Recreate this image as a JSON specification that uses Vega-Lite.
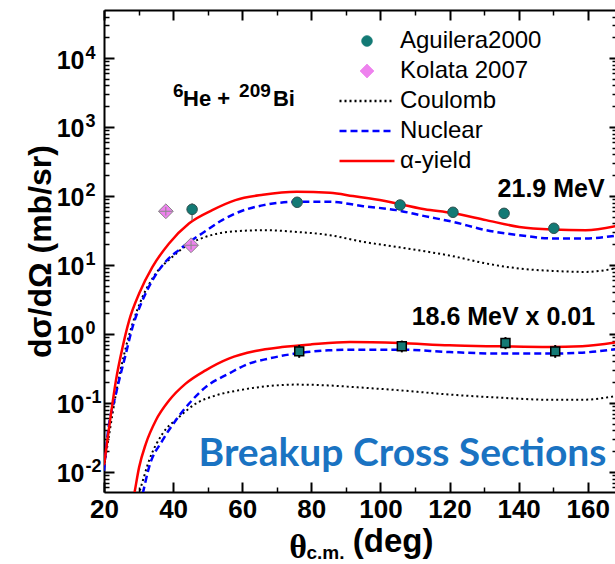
{
  "$schema": "https://vega.github.io/schema/vega-lite/v6.json",
  "width": 511,
  "height": 482,
  "autosize": {"type": "none"},
  "padding": {"left": 104, "top": 10, "right": 0, "bottom": 72},
  "background": "white",
  "config": {
    "view": {"stroke": null},
    "axis": {"grid": false, "tickColor": "#000", "domainColor": "#000", "labelColor": "#000", "titleColor": "#000"}
  },
  "datasets": {
    "curves": [
      {"s": "α-yield", "e": "21.9", "t": 20.0, "v": 0.0125},
      {"s": "α-yield", "e": "21.9", "t": 20.58, "v": 0.0204},
      {"s": "α-yield", "e": "21.9", "t": 22.02, "v": 0.0695},
      {"s": "α-yield", "e": "21.9", "t": 23.46, "v": 0.212},
      {"s": "α-yield", "e": "21.9", "t": 25.39, "v": 0.644},
      {"s": "α-yield", "e": "21.9", "t": 27.29, "v": 1.57},
      {"s": "α-yield", "e": "21.9", "t": 30.17, "v": 3.84},
      {"s": "α-yield", "e": "21.9", "t": 34.03, "v": 9.35},
      {"s": "α-yield", "e": "21.9", "t": 38.82, "v": 20.5},
      {"s": "α-yield", "e": "21.9", "t": 44.58, "v": 39.9},
      {"s": "α-yield", "e": "21.9", "t": 51.33, "v": 62.3},
      {"s": "α-yield", "e": "21.9", "t": 58.04, "v": 87.1},
      {"s": "α-yield", "e": "21.9", "t": 66.0, "v": 104},
      {"s": "α-yield", "e": "21.9", "t": 75.82, "v": 114.8},
      {"s": "α-yield", "e": "21.9", "t": 85.4, "v": 111},
      {"s": "α-yield", "e": "21.9", "t": 92.0, "v": 100},
      {"s": "α-yield", "e": "21.9", "t": 99.8, "v": 87.1},
      {"s": "α-yield", "e": "21.9", "t": 112.8, "v": 64.4},
      {"s": "α-yield", "e": "21.9", "t": 120.95, "v": 56.5},
      {"s": "α-yield", "e": "21.9", "t": 130.6, "v": 44.6},
      {"s": "α-yield", "e": "21.9", "t": 140.2, "v": 35.6},
      {"s": "α-yield", "e": "21.9", "t": 149.8, "v": 32.7},
      {"s": "α-yield", "e": "21.9", "t": 159.4, "v": 31.9},
      {"s": "α-yield", "e": "21.9", "t": 168.0, "v": 36.5},
      {"s": "Nuclear", "e": "21.9", "t": 20.0, "v": 0.0104},
      {"s": "Nuclear", "e": "21.9", "t": 21.07, "v": 0.0356},
      {"s": "Nuclear", "e": "21.9", "t": 23.46, "v": 0.136},
      {"s": "Nuclear", "e": "21.9", "t": 26.34, "v": 0.518},
      {"s": "Nuclear", "e": "21.9", "t": 28.27, "v": 1.26},
      {"s": "Nuclear", "e": "21.9", "t": 31.15, "v": 3.07},
      {"s": "Nuclear", "e": "21.9", "t": 34.03, "v": 6.0},
      {"s": "Nuclear", "e": "21.9", "t": 37.87, "v": 11.2},
      {"s": "Nuclear", "e": "21.9", "t": 41.7, "v": 16.5},
      {"s": "Nuclear", "e": "21.9", "t": 45.56, "v": 23.0},
      {"s": "Nuclear", "e": "21.9", "t": 49.4, "v": 31.0},
      {"s": "Nuclear", "e": "21.9", "t": 54.2, "v": 44.6},
      {"s": "Nuclear", "e": "21.9", "t": 58.04, "v": 55.8},
      {"s": "Nuclear", "e": "21.9", "t": 66.2, "v": 73.6},
      {"s": "Nuclear", "e": "21.9", "t": 75.8, "v": 82.2},
      {"s": "Nuclear", "e": "21.9", "t": 85.4, "v": 82.2},
      {"s": "Nuclear", "e": "21.9", "t": 95.0, "v": 71.2},
      {"s": "Nuclear", "e": "21.9", "t": 104.6, "v": 62.3},
      {"s": "Nuclear", "e": "21.9", "t": 112.8, "v": 51.0},
      {"s": "Nuclear", "e": "21.9", "t": 120.95, "v": 42.2},
      {"s": "Nuclear", "e": "21.9", "t": 130.6, "v": 31.9},
      {"s": "Nuclear", "e": "21.9", "t": 140.2, "v": 27.0},
      {"s": "Nuclear", "e": "21.9", "t": 149.8, "v": 24.2},
      {"s": "Nuclear", "e": "21.9", "t": 159.4, "v": 24.2},
      {"s": "Nuclear", "e": "21.9", "t": 168.0, "v": 26.5},
      {"s": "Coulomb", "e": "21.9", "t": 20.0, "v": 0.0115},
      {"s": "Coulomb", "e": "21.9", "t": 21.53, "v": 0.0356},
      {"s": "Coulomb", "e": "21.9", "t": 23.46, "v": 0.136},
      {"s": "Coulomb", "e": "21.9", "t": 26.34, "v": 0.644},
      {"s": "Coulomb", "e": "21.9", "t": 28.27, "v": 1.41},
      {"s": "Coulomb", "e": "21.9", "t": 31.15, "v": 3.43},
      {"s": "Coulomb", "e": "21.9", "t": 34.99, "v": 7.5},
      {"s": "Coulomb", "e": "21.9", "t": 39.8, "v": 13.1},
      {"s": "Coulomb", "e": "21.9", "t": 44.58, "v": 20.0},
      {"s": "Coulomb", "e": "21.9", "t": 49.4, "v": 25.5},
      {"s": "Coulomb", "e": "21.9", "t": 56.1, "v": 30.1},
      {"s": "Coulomb", "e": "21.9", "t": 66.2, "v": 31.9},
      {"s": "Coulomb", "e": "21.9", "t": 75.8, "v": 30.1},
      {"s": "Coulomb", "e": "21.9", "t": 85.4, "v": 27.0},
      {"s": "Coulomb", "e": "21.9", "t": 95.0, "v": 21.6},
      {"s": "Coulomb", "e": "21.9", "t": 104.6, "v": 18.3},
      {"s": "Coulomb", "e": "21.9", "t": 112.8, "v": 15.8},
      {"s": "Coulomb", "e": "21.9", "t": 120.95, "v": 13.4},
      {"s": "Coulomb", "e": "21.9", "t": 130.6, "v": 10.5},
      {"s": "Coulomb", "e": "21.9", "t": 140.2, "v": 8.87},
      {"s": "Coulomb", "e": "21.9", "t": 149.8, "v": 8.19},
      {"s": "Coulomb", "e": "21.9", "t": 159.4, "v": 7.92},
      {"s": "Coulomb", "e": "21.9", "t": 168.0, "v": 8.9},
      {"s": "α-yield", "e": "18.6", "t": 28.3, "v": 0.0036},
      {"s": "α-yield", "e": "18.6", "t": 28.73, "v": 0.00468},
      {"s": "α-yield", "e": "18.6", "t": 30.17, "v": 0.0117},
      {"s": "α-yield", "e": "18.6", "t": 32.1, "v": 0.0255},
      {"s": "α-yield", "e": "18.6", "t": 34.99, "v": 0.0556},
      {"s": "α-yield", "e": "18.6", "t": 38.82, "v": 0.108},
      {"s": "α-yield", "e": "18.6", "t": 43.63, "v": 0.19},
      {"s": "α-yield", "e": "18.6", "t": 49.4, "v": 0.296},
      {"s": "α-yield", "e": "18.6", "t": 56.1, "v": 0.438},
      {"s": "α-yield", "e": "18.6", "t": 63.8, "v": 0.564},
      {"s": "α-yield", "e": "18.6", "t": 71.5, "v": 0.644},
      {"s": "α-yield", "e": "18.6", "t": 80.1, "v": 0.706},
      {"s": "α-yield", "e": "18.6", "t": 91.2, "v": 0.762},
      {"s": "α-yield", "e": "18.6", "t": 105.6, "v": 0.736},
      {"s": "α-yield", "e": "18.6", "t": 120.0, "v": 0.682},
      {"s": "α-yield", "e": "18.6", "t": 134.4, "v": 0.66},
      {"s": "α-yield", "e": "18.6", "t": 148.8, "v": 0.644},
      {"s": "α-yield", "e": "18.6", "t": 158.4, "v": 0.66},
      {"s": "α-yield", "e": "18.6", "t": 168.0, "v": 0.75},
      {"s": "Nuclear", "e": "18.6", "t": 30.5, "v": 0.0034},
      {"s": "Nuclear", "e": "18.6", "t": 31.15, "v": 0.00468},
      {"s": "Nuclear", "e": "18.6", "t": 33.05, "v": 0.0117},
      {"s": "Nuclear", "e": "18.6", "t": 36.92, "v": 0.0285},
      {"s": "Nuclear", "e": "18.6", "t": 40.75, "v": 0.0556},
      {"s": "Nuclear", "e": "18.6", "t": 44.58, "v": 0.097},
      {"s": "Nuclear", "e": "18.6", "t": 49.4, "v": 0.169},
      {"s": "Nuclear", "e": "18.6", "t": 56.1, "v": 0.265},
      {"s": "Nuclear", "e": "18.6", "t": 61.9, "v": 0.37},
      {"s": "Nuclear", "e": "18.6", "t": 67.6, "v": 0.438},
      {"s": "Nuclear", "e": "18.6", "t": 75.3, "v": 0.518},
      {"s": "Nuclear", "e": "18.6", "t": 84.9, "v": 0.577},
      {"s": "Nuclear", "e": "18.6", "t": 92.6, "v": 0.591},
      {"s": "Nuclear", "e": "18.6", "t": 105.6, "v": 0.591},
      {"s": "Nuclear", "e": "18.6", "t": 120.0, "v": 0.546},
      {"s": "Nuclear", "e": "18.6", "t": 134.4, "v": 0.518},
      {"s": "Nuclear", "e": "18.6", "t": 148.8, "v": 0.518},
      {"s": "Nuclear", "e": "18.6", "t": 158.4, "v": 0.535},
      {"s": "Nuclear", "e": "18.6", "t": 168.0, "v": 0.6},
      {"s": "Coulomb", "e": "18.6", "t": 29.5, "v": 0.0039},
      {"s": "Coulomb", "e": "18.6", "t": 30.66, "v": 0.00597},
      {"s": "Coulomb", "e": "18.6", "t": 33.05, "v": 0.0146},
      {"s": "Coulomb", "e": "18.6", "t": 36.92, "v": 0.0356},
      {"s": "Coulomb", "e": "18.6", "t": 41.7, "v": 0.0621},
      {"s": "Coulomb", "e": "18.6", "t": 46.5, "v": 0.097},
      {"s": "Coulomb", "e": "18.6", "t": 52.3, "v": 0.128},
      {"s": "Coulomb", "e": "18.6", "t": 59.0, "v": 0.152},
      {"s": "Coulomb", "e": "18.6", "t": 67.6, "v": 0.175},
      {"s": "Coulomb", "e": "18.6", "t": 75.3, "v": 0.184},
      {"s": "Coulomb", "e": "18.6", "t": 84.9, "v": 0.179},
      {"s": "Coulomb", "e": "18.6", "t": 92.6, "v": 0.169},
      {"s": "Coulomb", "e": "18.6", "t": 105.6, "v": 0.152},
      {"s": "Coulomb", "e": "18.6", "t": 120.0, "v": 0.132},
      {"s": "Coulomb", "e": "18.6", "t": 134.4, "v": 0.119},
      {"s": "Coulomb", "e": "18.6", "t": 148.8, "v": 0.111},
      {"s": "Coulomb", "e": "18.6", "t": 158.4, "v": 0.111},
      {"s": "Coulomb", "e": "18.6", "t": 168.0, "v": 0.125}
    ],
    "agu": [
      {"s": "Aguilera2000", "t": 45.5, "v": 64, "lo": 44.6, "hi": 78.7},
      {"s": "Aguilera2000", "t": 75.9, "v": 81, "lo": 76, "hi": 86},
      {"s": "Aguilera2000", "t": 105.7, "v": 74, "lo": 70, "hi": 78},
      {"s": "Aguilera2000", "t": 121.0, "v": 58, "lo": 55, "hi": 61},
      {"s": "Aguilera2000", "t": 135.8, "v": 56, "lo": 53, "hi": 59},
      {"s": "Aguilera2000", "t": 150.2, "v": 34, "lo": 32, "hi": 36}
    ],
    "kol": [
      {"s": "Kolata 2007", "t": 37.9, "v": 60, "lo": 52, "hi": 69, "tlo": 35.9, "thi": 39.9},
      {"s": "Kolata 2007", "t": 45.2, "v": 19.3, "lo": 16.7, "hi": 22.3, "tlo": 43.2, "thi": 47.2}
    ],
    "low": [
      {"s": "Aguilera2000", "t": 76.5, "v": 0.558, "lo": 0.45, "hi": 0.69},
      {"s": "Aguilera2000", "t": 106.2, "v": 0.66, "lo": 0.54, "hi": 0.8},
      {"s": "Aguilera2000", "t": 136.2, "v": 0.736, "lo": 0.6, "hi": 0.9},
      {"s": "Aguilera2000", "t": 150.6, "v": 0.558, "lo": 0.45, "hi": 0.69}
    ]
  },
  "layer": [
    {
      "data": {"name": "curves"},
      "transform": [{"filter": "datum.s == 'Coulomb'"}],
      "mark": {"type": "line", "clip": true, "strokeWidth": 2, "strokeDash": [2, 3], "interpolate": "monotone"},
      "encoding": {
        "x": {"field": "t", "type": "quantitative", "scale": {"domain": [20, 167.9], "nice": false, "zero": false},
          "axis": {"orient": "bottom", "values": [20, 40, 60, 80, 100, 120, 140, 160], "tickSize": -10, "tickWidth": 2, "domain": true, "domainWidth": 2,
            "labelFont": "Liberation Sans", "labelFontWeight": "bold", "labelFontSize": 26, "labelPadding": 14, "labelFlush": false, "labelOverlap": false, "title": null}},
        "y": {"field": "v", "type": "quantitative", "scale": {"type": "log", "domain": [0.0051, 49700], "nice": false},
          "axis": {"orient": "left", "values": [0.01, 0.1, 1, 10, 100, 1000, 10000], "tickSize": -10, "tickWidth": 2, "domain": true, "domainWidth": 2,
            "labelExpr": "'10'", "labelOffset": 2,
            "labelFont": "Liberation Sans", "labelFontWeight": "bold", "labelFontSize": 25, "labelPadding": 30, "labelFlush": false, "labelOverlap": false,
            "title": "dσ/dΩ (mb/sr)", "titleFont": "Liberation Sans", "titleFontWeight": "bold", "titleFontSize": 32, "titlePadding": -1}},
        "color": {"field": "s", "type": "nominal",
          "scale": {"domain": ["Aguilera2000", "Kolata 2007", "Coulomb", "Nuclear", "α-yield"], "range": ["#137a75", "#ee82ee", "#000000", "#0000ff", "#ff0000"]},
          "legend": {"orient": "none", "legendX": 251, "legendY": 19, "title": null, "symbolSize": 400, "labelOffset": 21, "rowPadding": 6,
            "labelFont": "Liberation Sans", "labelFontSize": 24, "labelColor": "#000", "padding": 0,
            "encode": {"symbols": {"update": {
              "shape": {"signal": "datum.value == 'Aguilera2000' ? 'circle' : datum.value == 'Kolata 2007' ? 'diamond' : 'M-2.75,0H2.75'"},
              "size": {"signal": "datum.value == 'Aguilera2000' ? 110 : datum.value == 'Kolata 2007' ? 190 : 400"},
              "fill": {"signal": "datum.value == 'Aguilera2000' ? '#137a75' : datum.value == 'Kolata 2007' ? '#ee82ee' : 'transparent'"},
              "stroke": {"signal": "datum.value == 'Aguilera2000' ? '#2d4f4d' : datum.value == 'Kolata 2007' ? '#888888' : datum.value == 'Coulomb' ? '#000000' : datum.value == 'Nuclear' ? '#0000ff' : '#ff0000'"},
              "strokeWidth": {"signal": "datum.value == 'Aguilera2000' || datum.value == 'Kolata 2007' ? 1 : 2.5"},
              "strokeDash": {"signal": "datum.value == 'Coulomb' ? [2,3] : datum.value == 'Nuclear' ? [7,4] : [1,0]"},
              "opacity": {"value": 1}
            }}}}},
        "detail": {"field": "e"}
      }
    },
    {
      "data": {"name": "curves"},
      "transform": [{"filter": "datum.s == 'Nuclear'"}],
      "mark": {"type": "line", "clip": true, "strokeWidth": 2.5, "strokeDash": [7, 4], "interpolate": "monotone"},
      "encoding": {
        "x": {"field": "t", "type": "quantitative", "scale": {"domain": [20, 167.9], "nice": false, "zero": false},
          "axis": {"orient": "top", "values": [20, 40, 60, 80, 100, 120, 140, 160], "tickSize": -10, "tickWidth": 2, "domain": true, "domainWidth": 2, "labels": false, "title": null}},
        "y": {"field": "v", "type": "quantitative", "scale": {"type": "log", "domain": [0.0051, 49700], "nice": false},
          "axis": {"orient": "right", "values": [0.01, 0.1, 1, 10, 100, 1000, 10000], "tickSize": -6, "tickWidth": 2, "domain": false, "labels": false, "title": null}},
        "color": {"field": "s", "type": "nominal", "legend": null},
        "detail": {"field": "e"}
      }
    },
    {
      "data": {"name": "curves"},
      "transform": [{"filter": "datum.s == 'α-yield'"}],
      "mark": {"type": "line", "clip": true, "strokeWidth": 2.5, "interpolate": "monotone"},
      "encoding": {
        "x": {"field": "t", "type": "quantitative", "scale": {"domain": [20, 167.9], "nice": false, "zero": false},
          "axis": {"orient": "bottom", "values": [30, 50, 70, 90, 110, 130, 150], "tickSize": -5, "tickWidth": 1.5, "domain": false, "labels": false, "title": null}},
        "y": {"field": "v", "type": "quantitative", "scale": {"type": "log", "domain": [0.0051, 49700], "nice": false},
          "axis": {"orient": "left", "values": [0.006, 0.007, 0.008, 0.009, 0.02, 0.03, 0.04, 0.05, 0.06, 0.07, 0.08, 0.09, 0.2, 0.3, 0.4, 0.5, 0.6, 0.7, 0.8, 0.9, 2, 3, 4, 5, 6, 7, 8, 9, 20, 30, 40, 50, 60, 70, 80, 90, 200, 300, 400, 500, 600, 700, 800, 900, 2000, 3000, 4000, 5000, 6000, 7000, 8000, 9000, 20000, 30000, 40000], "tickSize": -5, "tickWidth": 1.5, "domain": false, "labels": false, "title": null}},
        "color": {"field": "s", "type": "nominal", "legend": null},
        "detail": {"field": "e"}
      }
    },
    {
      "data": {"name": "agu"},
      "mark": {"type": "rule", "color": "#888888", "strokeWidth": 1.5},
      "encoding": {
        "x": {"field": "t", "type": "quantitative", "scale": {"domain": [20, 167.9], "nice": false, "zero": false},
          "axis": {"orient": "top", "values": [30, 50, 70, 90, 110, 130, 150], "tickSize": -5, "tickWidth": 1.5, "domain": false, "labels": false, "title": null}},
        "y": {"field": "lo", "type": "quantitative", "scale": {"type": "log", "domain": [0.0051, 49700], "nice": false},
          "axis": {"orient": "right", "values": [0.006, 0.007, 0.008, 0.009, 0.02, 0.03, 0.04, 0.05, 0.06, 0.07, 0.08, 0.09, 0.2, 0.3, 0.4, 0.5, 0.6, 0.7, 0.8, 0.9, 2, 3, 4, 5, 6, 7, 8, 9, 20, 30, 40, 50, 60, 70, 80, 90, 200, 300, 400, 500, 600, 700, 800, 900, 2000, 3000, 4000, 5000, 6000, 7000, 8000, 9000, 20000, 30000, 40000], "tickSize": -3, "tickWidth": 1.5, "domain": false, "labels": false, "title": null}},
        "y2": {"field": "hi"}
      }
    },
    {
      "data": {"name": "agu"},
      "mark": {"type": "circle", "size": 110, "opacity": 1, "stroke": "#2d4f4d", "strokeWidth": 1},
      "encoding": {
        "x": {"field": "t", "type": "quantitative", "scale": {"domain": [20, 167.9], "nice": false, "zero": false}, "axis": null},
        "y": {"field": "v", "type": "quantitative", "scale": {"type": "log", "domain": [0.0051, 49700], "nice": false}, "axis": null},
        "color": {"field": "s", "type": "nominal", "legend": null}
      }
    },
    {
      "data": {"name": "kol"},
      "mark": {"type": "point", "shape": "diamond", "size": 220, "filled": true, "opacity": 1, "stroke": "#888888", "strokeWidth": 1},
      "encoding": {
        "x": {"field": "t", "type": "quantitative", "scale": {"domain": [20, 167.9], "nice": false, "zero": false}, "axis": null},
        "y": {"field": "v", "type": "quantitative", "scale": {"type": "log", "domain": [0.0051, 49700], "nice": false},
          "axis": {"orient": "left", "values": [0.01, 0.1, 1, 10, 100, 1000, 10000], "ticks": false, "domain": false,
            "labelExpr": "datum.value > 5000 ? '4' : datum.value > 500 ? '3' : datum.value > 50 ? '2' : datum.value > 5 ? '1' : datum.value > 0.5 ? '0' : datum.value > 0.05 ? '-1' : '-2'",
            "labelAlign": "left", "labelBaseline": "middle", "labelOffset": -5, "labelPadding": 19,
            "labelFont": "Liberation Sans", "labelFontWeight": "bold", "labelFontSize": 18, "labelFlush": false, "labelOverlap": false, "title": null}},
        "color": {"field": "s", "type": "nominal", "legend": null}
      }
    },
    {
      "data": {"name": "kol"},
      "mark": {"type": "rule", "color": "#888888", "strokeWidth": 1},
      "encoding": {
        "x": {"field": "t", "type": "quantitative", "scale": {"domain": [20, 167.9], "nice": false, "zero": false}, "axis": null},
        "y": {"field": "lo", "type": "quantitative", "scale": {"type": "log", "domain": [0.0051, 49700], "nice": false}, "axis": null},
        "y2": {"field": "hi"}
      }
    },
    {
      "data": {"name": "kol"},
      "mark": {"type": "rule", "color": "#888888", "strokeWidth": 1},
      "encoding": {
        "x": {"field": "tlo", "type": "quantitative", "scale": {"domain": [20, 167.9], "nice": false, "zero": false}, "axis": null},
        "x2": {"field": "thi"},
        "y": {"field": "v", "type": "quantitative", "scale": {"type": "log", "domain": [0.0051, 49700], "nice": false}, "axis": null}
      }
    },
    {
      "data": {"name": "low"},
      "mark": {"type": "rule", "color": "#000000", "strokeWidth": 2},
      "encoding": {
        "x": {"field": "t", "type": "quantitative", "scale": {"domain": [20, 167.9], "nice": false, "zero": false}, "axis": null},
        "y": {"field": "lo", "type": "quantitative", "scale": {"type": "log", "domain": [0.0051, 49700], "nice": false}, "axis": null},
        "y2": {"field": "hi"}
      }
    },
    {
      "data": {"name": "low"},
      "mark": {"type": "square", "size": 80, "opacity": 1, "stroke": "#000000", "strokeWidth": 1.5},
      "encoding": {
        "x": {"field": "t", "type": "quantitative", "scale": {"domain": [20, 167.9], "nice": false, "zero": false}, "axis": null},
        "y": {"field": "v", "type": "quantitative", "scale": {"type": "log", "domain": [0.0051, 49700], "nice": false}, "axis": null},
        "color": {"field": "s", "type": "nominal", "legend": null}
      }
    },
    {
      "data": {"values": [{"t": 42.9, "v": 2005, "txt": "He +"}, {"t": 68.9, "v": 2005, "txt": "Bi"}]},
      "mark": {"type": "text", "align": "left", "baseline": "alphabetic", "font": "Liberation Sans", "fontWeight": "bold", "fontSize": 22, "color": "#000"},
      "encoding": {
        "x": {"field": "t", "type": "quantitative", "scale": {"domain": [20, 167.9], "nice": false, "zero": false}, "axis": null},
        "y": {"field": "v", "type": "quantitative", "scale": {"type": "log", "domain": [0.0051, 49700], "nice": false}, "axis": null},
        "text": {"field": "txt"}
      }
    },
    {
      "data": {"values": [{"t": 40.0, "v": 2005, "txt": "6"}, {"t": 59.1, "v": 2005, "txt": "209"}]},
      "mark": {"type": "text", "align": "left", "baseline": "alphabetic", "dy": -9, "font": "Liberation Sans", "fontWeight": "bold", "fontSize": 19, "color": "#000"},
      "encoding": {
        "x": {"field": "t", "type": "quantitative", "scale": {"domain": [20, 167.9], "nice": false, "zero": false}, "axis": null},
        "y": {"field": "v", "type": "quantitative", "scale": {"type": "log", "domain": [0.0051, 49700], "nice": false}, "axis": null},
        "text": {"field": "txt"}
      }
    },
    {
      "data": {"values": [{"t": 149.4, "v": 95.5, "txt": "21.9 MeV"}, {"t": 135.6, "v": 1.325, "txt": "18.6 MeV x 0.01"}]},
      "mark": {"type": "text", "align": "center", "baseline": "alphabetic", "font": "Liberation Sans", "fontWeight": "bold", "fontSize": 25, "color": "#000"},
      "encoding": {
        "x": {"field": "t", "type": "quantitative", "scale": {"domain": [20, 167.9], "nice": false, "zero": false}, "axis": null},
        "y": {"field": "v", "type": "quantitative", "scale": {"type": "log", "domain": [0.0051, 49700], "nice": false}, "axis": null},
        "text": {"field": "txt"}
      }
    },
    {
      "data": {"values": [{"t": 106.4, "v": 0.01225, "txt": "Breakup Cross Sections"}]},
      "mark": {"type": "text", "align": "center", "baseline": "alphabetic", "font": "Lato", "fontWeight": "bold", "fontSize": 39, "color": "#1a73c2"},
      "encoding": {
        "x": {"field": "t", "type": "quantitative", "scale": {"domain": [20, 167.9], "nice": false, "zero": false}, "axis": null},
        "y": {"field": "v", "type": "quantitative", "scale": {"type": "log", "domain": [0.0051, 49700], "nice": false}, "axis": null},
        "text": {"field": "txt"}
      }
    },
    {
      "data": {"values": [{"t": 92.0, "v": 0.00069, "txt": "(deg)"}]},
      "mark": {"type": "text", "align": "left", "baseline": "alphabetic", "font": "Liberation Sans", "fontWeight": "bold", "fontSize": 33, "color": "#000"},
      "encoding": {
        "x": {"field": "t", "type": "quantitative", "scale": {"domain": [20, 167.9], "nice": false, "zero": false}, "axis": null},
        "y": {"field": "v", "type": "quantitative", "scale": {"type": "log", "domain": [0.0051, 49700], "nice": false}, "axis": null},
        "text": {"field": "txt"}
      }
    },
    {
      "data": {"values": [{"t": 73.6, "v": 0.00069, "txt": "θ"}]},
      "mark": {"type": "text", "align": "left", "baseline": "alphabetic", "dy": 6, "font": "Liberation Serif", "fontWeight": "bold", "fontSize": 34, "color": "#000"},
      "encoding": {
        "x": {"field": "t", "type": "quantitative", "scale": {"domain": [20, 167.9], "nice": false, "zero": false}, "axis": null},
        "y": {"field": "v", "type": "quantitative", "scale": {"type": "log", "domain": [0.0051, 49700], "nice": false}, "axis": null},
        "text": {"field": "txt"}
      }
    },
    {
      "data": {"values": [{"t": 78.6, "v": 0.00069, "txt": "c.m."}]},
      "mark": {"type": "text", "align": "left", "baseline": "alphabetic", "dy": 7, "font": "Liberation Sans", "fontWeight": "bold", "fontSize": 19, "color": "#000"},
      "encoding": {
        "x": {"field": "t", "type": "quantitative", "scale": {"domain": [20, 167.9], "nice": false, "zero": false}, "axis": null},
        "y": {"field": "v", "type": "quantitative", "scale": {"type": "log", "domain": [0.0051, 49700], "nice": false}, "axis": null},
        "text": {"field": "txt"}
      }
    }
  ],
  "resolve": {"axis": {"x": "independent", "y": "independent"}}
}
